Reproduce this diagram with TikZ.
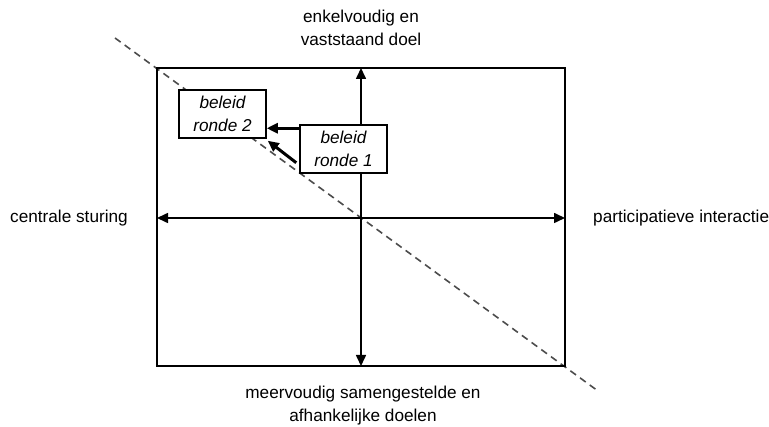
\documentclass[tikz,border=0pt]{standalone}
\usepackage{fontspec}
\setmainfont{Liberation Sans}
\usetikzlibrary{arrows.meta,calc}
\begin{document}
\begin{tikzpicture}[x=1pt,y=-1pt,
  lbl/.style={font=\fontsize{17.2}{23}\selectfont, align=center, inner sep=0pt},
  axis/.style={line width=1.6pt, {Triangle[length=11pt,width=10pt]}-{Triangle[length=11pt,width=10pt]}},
  roundbox/.style={draw, line width=1.5pt, fill=white, minimum width=87pt, minimum height=48pt,
    inner sep=0pt, align=center, font=\fontsize{17.2}{23}\selectfont\itshape},
  move/.style={line width=3pt, -{Triangle[length=11pt,width=10pt]}}]
  \useasboundingbox (0,0) rectangle (769,427);
  % frame corners and diagonal
  \coordinate (tl) at (157,68);
  \coordinate (br) at (565,366);
  \coordinate (d1) at (115,38);
  \coordinate (d2) at (598,391);
  \draw[gray!60!black, line width=1.6pt, dash pattern=on 7pt off 5pt] (d1) -- (d2);
  \draw[line width=1.7pt] (tl) rectangle (br);
  % axes
  \coordinate (top) at (361,68);
  \coordinate (bot) at (361,366);
  \coordinate (lft) at (157,218);
  \coordinate (rgt) at (565,218);
  \draw[axis] (top) -- (bot);
  \draw[axis] (lft) -- (rgt);
  % axis labels
  \node[lbl] (ntop) at (361,28) {enkelvoudig en\\vaststaand doel};
  \node[lbl] (nbot) at (363,406) {meervoudig samengestelde en\\afhankelijke doelen};
  \node[lbl, anchor=west] (nlft) at (10,218) {centrale sturing};
  \node[lbl, anchor=west] (nrgt) at (593,218) {participatieve interactie};
  % policy rounds
  \node[roundbox] (r2) at (222.5,114) {beleid\\ronde 2};
  \node[roundbox] (r1) at (343.5,149) {beleid\\ronde 1};
  \draw[move] ($(r1.north west)+(0,4)$) -- ($(r2.north east)+(0,39)$);
  \draw[move] ($(r1.south west)+(-3,-11)$) -- ($(r2.south east)+(1,2)$);
\end{tikzpicture}
\end{document}
